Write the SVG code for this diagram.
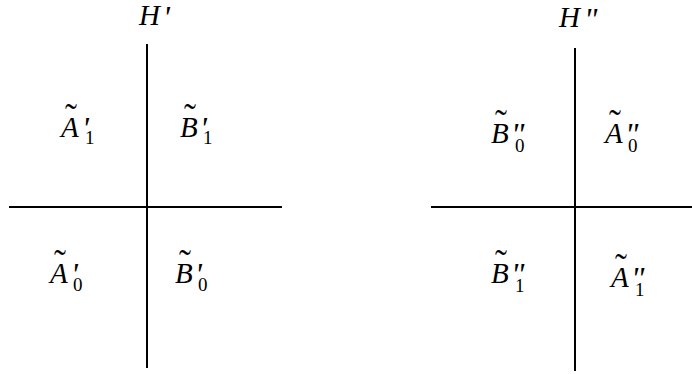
<svg xmlns="http://www.w3.org/2000/svg" width="692" height="374" viewBox="0 0 692 374">
<style>
.ln{stroke:#000;stroke-width:2;fill:none}
.m{font-family:"Times New Roman","Liberation Serif",Times,serif;fill:#000}
.v{font-style:italic;font-size:29px}
.t{font-size:36px}
.p{font-style:italic;font-size:32px}
.s{font-size:19px}
</style>
<rect width="692" height="374" fill="#fff"/>
<g id="connectors">
<line class="ln" x1="147" y1="44" x2="147" y2="368"/>
<line class="ln" x1="9" y1="207" x2="282" y2="207"/>
<line class="ln" x1="575" y1="48" x2="575" y2="371"/>
<line class="ln" x1="431" y1="207" x2="692" y2="207"/>
</g>
<g id="H1"><text class="m"><tspan class="v" x="139" y="25">H</tspan><tspan class="p" x="163" y="28">'</tspan></text></g>
<g id="H2"><text class="m"><tspan class="v" x="559" y="27">H</tspan><tspan class="p" x="584" y="30">"</tspan></text></g>
<g id="A1p"><text class="m"><tspan class="v" x="61" y="137">A</tspan><tspan class="t" x="65" y="129">˜</tspan><tspan class="p" x="82" y="139">'</tspan><tspan class="s" x="85" y="144">1</tspan></text></g>
<g id="B1p"><text class="m"><tspan class="v" x="180" y="137">B</tspan><tspan class="t" x="184" y="129">˜</tspan><tspan class="p" x="200" y="139">'</tspan><tspan class="s" x="203" y="144">1</tspan></text></g>
<g id="A0p"><text class="m"><tspan class="v" x="50" y="283">A</tspan><tspan class="t" x="54" y="275">˜</tspan><tspan class="p" x="71" y="285">'</tspan><tspan class="s" x="73" y="291">0</tspan></text></g>
<g id="B0p"><text class="m"><tspan class="v" x="175" y="283">B</tspan><tspan class="t" x="179" y="275">˜</tspan><tspan class="p" x="195" y="285">'</tspan><tspan class="s" x="198" y="291">0</tspan></text></g>
<g id="B0pp"><text class="m"><tspan class="v" x="491" y="143">B</tspan><tspan class="t" x="495" y="135">˜</tspan><tspan class="p" x="511" y="145">"</tspan><tspan class="s" x="515" y="152">0</tspan></text></g>
<g id="A0pp"><text class="m"><tspan class="v" x="605" y="143">A</tspan><tspan class="t" x="609" y="135">˜</tspan><tspan class="p" x="625" y="145">"</tspan><tspan class="s" x="628" y="152">0</tspan></text></g>
<g id="B1pp"><text class="m"><tspan class="v" x="491" y="283">B</tspan><tspan class="t" x="495" y="275">˜</tspan><tspan class="p" x="511" y="285">"</tspan><tspan class="s" x="515" y="292">1</tspan></text></g>
<g id="A1pp"><text class="m"><tspan class="v" x="611" y="287">A</tspan><tspan class="t" x="615" y="279">˜</tspan><tspan class="p" x="631" y="289">"</tspan><tspan class="s" x="635" y="296">1</tspan></text></g>
</svg>
